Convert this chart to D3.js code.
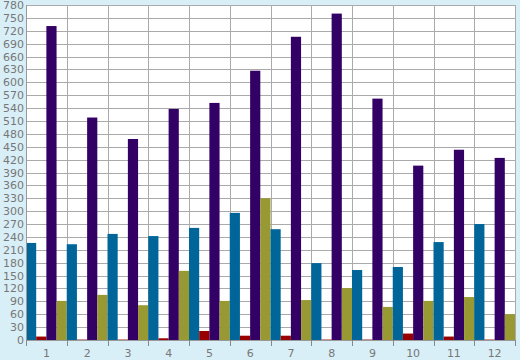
<!DOCTYPE html>
<html><head><meta charset="utf-8">
<script src="https://cdn.jsdelivr.net/npm/d3@7"></script>
<style>body{margin:0;background:#d9eff7;}svg{display:block;}</style>
</head><body>
<svg id="c" width="520" height="360"></svg>
<script>
const categories = ["1","2","3","4","5","6","7","8","9","10","11","12"];
const seriesNames = ["A","B","C","D"];
const blueValues   = [226,223,247,242,261,296,258,179,163,170,228,270];
const redValues    = [8,1,1,4,21,10,10,1,1,15,8,1];
const purpleValues = [731,518,468,538,552,627,706,760,562,406,443,424];
const oliveValues  = [91,105,81,161,91,330,93,121,77,91,100,60];
const yTicks = d3.range(0, 781, 30);
const colors = ["#006699","#990000","#330066","#999933"];
const series = [blueValues, redValues, purpleValues, oliveValues];

const svg = d3.select("#c");
const L = 26, R = 515, T = 5, B = 340;
const x = d3.scaleBand().domain(categories).range([L, R]);
const xi = d3.scaleBand().domain(seriesNames).range([0, x.bandwidth()]);
const y = d3.scaleLinear().domain([0, 780]).range([B, T]);

svg.append("rect").attr("x", L).attr("y", T).attr("width", R - L).attr("height", B - T).attr("fill", "#fff");

// grid
svg.append("g").selectAll("line").data(yTicks).join("line")
  .attr("x1", L).attr("x2", R).attr("y1", d => Math.round(y(d)) + 0.5).attr("y2", d => Math.round(y(d)) + 0.5)
  .attr("stroke", "#aaaaaa").attr("stroke-width", 1);
svg.append("g").selectAll("line").data(categories.concat(["end"])).join("line")
  .attr("x1", (d, i) => Math.round(L + i * x.step()) + 0.5).attr("x2", (d, i) => Math.round(L + i * x.step()) + 0.5)
  .attr("y1", T).attr("y2", B).attr("stroke", "#aaaaaa").attr("stroke-width", 1);

// bars
const g = svg.append("g");
categories.forEach((c, ci) => {
  series.forEach((s, si) => {
    g.append("rect")
      .attr("x", x(c) + xi(seriesNames[si]))
      .attr("width", xi.bandwidth())
      .attr("y", y(s[ci]))
      .attr("height", B - y(s[ci]))
      .attr("fill", colors[si]);
  });
});

// y axis
const yAxis = d3.axisLeft(y).tickValues(yTicks).tickSize(0).tickPadding(2);
const ya = svg.append("g").attr("transform", `translate(${L},0)`).call(yAxis);
ya.select(".domain").remove();
ya.selectAll("text").attr("fill", "#777").style("font-family", "DejaVu Sans, Verdana, sans-serif").style("font-size", "11px");

// x axis
svg.append("line").attr("x1", L).attr("x2", R).attr("y1", B + 0.5).attr("y2", B + 0.5).attr("stroke", "#999");
svg.append("line").attr("x1", L + 0.5).attr("x2", L + 0.5).attr("y1", T).attr("y2", B).attr("stroke", "#999");
svg.append("g").selectAll("line").data(categories.concat(["end"])).join("line")
  .attr("x1", (d, i) => Math.round(L + i * x.step()) + 0.5).attr("x2", (d, i) => Math.round(L + i * x.step()) + 0.5)
  .attr("y1", B).attr("y2", B + 6).attr("stroke", "#888");
svg.append("g").selectAll("text").data(categories).join("text")
  .attr("x", d => x(d) + x.bandwidth() / 2).attr("y", 357)
  .attr("text-anchor", "middle").attr("fill", "#777")
  .style("font-family", "DejaVu Sans, Verdana, sans-serif").style("font-size", "11px")
  .text(d => d);
</script>
</body></html>
